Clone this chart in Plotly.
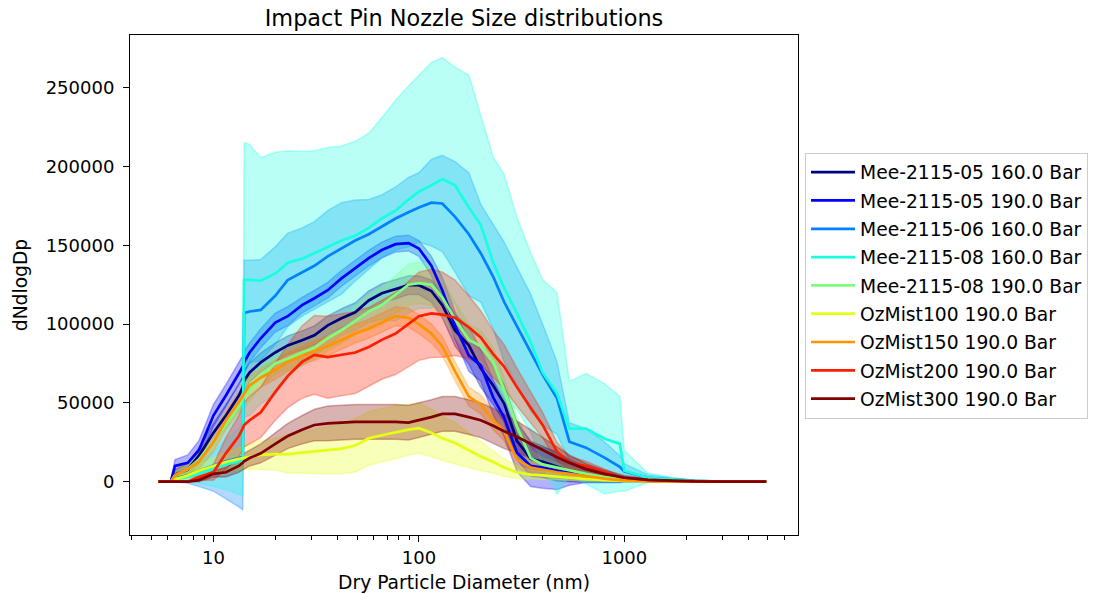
import numpy as np
import plotly.graph_objects as go

# Particle size bins (nm)
diameter_nm = [5.4, 6.2, 6.5, 7.5, 8.5, 10, 11.5, 13.3, 13.9, 14.1, 15, 17, 20, 23, 27, 31,
               36, 42, 49, 57, 66, 77, 89, 100, 115, 130, 150, 175, 200, 230, 260, 300,
               350, 400, 470, 540, 650, 800, 950, 1000, 1300, 1700, 2200, 3000, 4000, 4900]

labels = ["Mee-2115-05 160.0 Bar", "Mee-2115-05 190.0 Bar", "Mee-2115-06 160.0 Bar",
          "Mee-2115-08 160.0 Bar", "Mee-2115-08 190.0 Bar", "OzMist100 190.0 Bar",
          "OzMist150 190.0 Bar", "OzMist200 190.0 Bar", "OzMist300 190.0 Bar"]

# jet colormap sampled at 9 evenly spaced points
colors = [(0, 0, 128), (0, 0, 255), (0, 129, 255), (22, 255, 225), (125, 255, 122),
          (228, 255, 19), (255, 148, 0), (255, 30, 0), (128, 0, 0)]

# Mean dN/dlogDp and standard deviation per nozzle / pressure
mee05_160_mean = [0, 0, 4500, 7600, 16500, 31000, 42000, 54700, 60000, 64000, 69300, 75700, 82000, 86500, 89700, 92900,
                  99200, 103700, 107500, 115000, 119600, 122000, 124700, 124700, 121000, 112000, 96000, 86500, 71900, 61000, 49600, 26000,
                  14600, 12700, 9500, 7000, 4500, 2500, 1500, 1300, 600, 300, 100, 0, 0, 0]
mee05_160_std = [0, 0, 3000, 4000, 5000, 6000, 7000, 7000, 7000, 7000, 6000, 6000, 6000, 6000, 6000, 6000,
                 6000, 6000, 6000, 6000, 6000, 6000, 6000, 6000, 7000, 8000, 10000, 12000, 12000, 12000, 12000, 12000,
                 11000, 10000, 9000, 7000, 5000, 3000, 2000, 1500, 800, 400, 150, 0, 0, 0]

mee05_190_mean = [0, 0, 10000, 12000, 20000, 42000, 54700, 69300, 73000, 75700, 82000, 91000, 101000, 105000, 112000, 116400,
                  121500, 129000, 135500, 141800, 147000, 150700, 151400, 148000, 137000, 121500, 99000, 80000, 73800, 53400, 40700, 18400,
                  10000, 8900, 7000, 5700, 4500, 2500, 1500, 1300, 600, 300, 100, 0, 0, 0]
mee05_190_std = [0, 0, 4000, 5000, 6000, 7000, 7000, 7000, 7000, 7000, 6000, 6000, 6000, 6000, 5000, 5000,
                 5000, 5000, 5000, 5000, 5000, 5000, 5000, 5000, 6000, 8000, 9000, 10000, 10000, 11000, 12000, 12000,
                 13000, 13000, 12000, 8000, 5000, 3000, 2000, 1500, 800, 400, 150, 0, 0, 0]

mee06_160_mean = [0, 0, 2000, 4000, 7000, 10000, 13000, 15000, 16000, 107000, 108000, 109000, 118000, 128000, 133000, 137000,
                  143000, 148000, 153000, 157000, 162000, 167000, 171000, 174000, 177000, 176500, 168000, 157000, 145000, 130000, 114000, 99000,
                  82000, 68000, 53000, 25400, 21600, 15300, 9500, 6400, 2500, 1300, 600, 0, 0, 0]
mee06_160_std = [0, 0, 2000, 5000, 10000, 16000, 24000, 31000, 34000, 33500, 32500, 32000, 31000, 29700, 28000, 28000,
                 29000, 29000, 25700, 22000, 20000, 20000, 22000, 22000, 27500, 30500, 35000, 39000, 31000, 33000, 38000, 37000,
                 37000, 32000, 23000, 12000, 12000, 10000, 7000, 5000, 2000, 1000, 400, 0, 0, 0]

mee08_160_mean = [0, 0, 1500, 3000, 5000, 8000, 11000, 13000, 14000, 128000, 128000, 127500, 132000, 139000, 141500, 145000,
                  149000, 153000, 156000, 161000, 167000, 172000, 179000, 184000, 188000, 192000, 188000, 174000, 163000, 139000, 123000, 107000,
                  88400, 69300, 56000, 33700, 33700, 27300, 24000, 7000, 2500, 1300, 600, 0, 0, 0]
mee08_160_std = [0, 0, 1000, 3000, 6000, 11000, 16000, 21000, 23000, 87000, 86000, 78000, 77000, 71000, 68000, 65000,
                 63000, 60000, 60000, 60000, 64000, 70000, 72000, 74000, 78000, 77000, 75000, 84000, 69000, 67000, 72000, 61000,
                 57000, 59000, 64000, 30000, 35000, 35000, 30000, 13000, 3000, 1500, 500, 0, 0, 0]

mee08_190_mean = [0, 0, 4000, 8000, 14000, 26000, 36000, 48000, 52000, 54000, 58000, 67000, 75000, 78000, 82000, 85000,
                  91000, 96000, 102000, 108000, 112000, 119000, 125000, 126000, 125000, 117000, 103000, 90000, 86000, 76000, 58000, 35000,
                  15000, 11000, 9000, 7000, 5000, 3000, 1800, 1500, 700, 300, 0, 0, 0, 0]
mee08_190_std = [0, 0, 2000, 3000, 4000, 5000, 6000, 7000, 7000, 7000, 7000, 7000, 7000, 7000, 7000, 7000,
                 8000, 8000, 9000, 10000, 11000, 12000, 13000, 13000, 13000, 12000, 11000, 10000, 10000, 9000, 8000, 7000,
                 5000, 4000, 3000, 2500, 2000, 1500, 1000, 800, 400, 200, 0, 0, 0, 0]

oz100_mean = [0, 0, 1500, 4000, 7000, 10000, 12500, 14500, 15000, 15300, 16000, 17000, 17500, 17500, 18500, 19200,
              20000, 21000, 23000, 27500, 29500, 31500, 33000, 34000, 31000, 27500, 24500, 20000, 16000, 12500, 9000, 6000,
              4500, 4000, 3000, 2500, 1600, 1000, 600, 500, 300, 100, 0, 0, 0, 0]
oz100_std = [0, 0, 1000, 2500, 4000, 5000, 6000, 7000, 7500, 7500, 8000, 9000, 10000, 12000, 13000, 14000,
             15000, 16000, 17000, 17000, 17000, 17000, 16000, 16000, 15000, 14000, 13000, 11000, 9000, 7000, 5500, 4000,
             3000, 2500, 2000, 1500, 1000, 700, 400, 300, 200, 100, 0, 0, 0, 0]

oz150_mean = [0, 0, 4000, 8000, 13000, 25000, 39000, 50000, 54000, 56000, 61000, 66000, 71000, 76000, 80000, 83000,
              86000, 90000, 94000, 97000, 101000, 105000, 104000, 100000, 94000, 86000, 70000, 54000, 49000, 39000, 32000, 14000,
              9000, 7500, 6000, 5000, 3500, 2000, 1000, 800, 300, 0, 0, 0, 0, 0]
oz150_std = [0, 0, 3000, 4000, 5000, 6000, 6000, 6000, 6000, 6000, 6000, 6000, 6000, 6000, 6000, 6000,
             6000, 6000, 6000, 6000, 6000, 6000, 6000, 6000, 6000, 6000, 6000, 6000, 6000, 6000, 6000, 5000,
             4000, 3000, 2500, 2000, 1500, 1000, 600, 500, 200, 0, 0, 0, 0, 0]

oz200_mean = [0, 0, 0, 0, 3000, 6000, 18000, 29000, 34000, 36000, 39000, 44000, 57000, 67000, 76000, 80500,
              79000, 80500, 82000, 85500, 90000, 94000, 100000, 105000, 106800, 106000, 104000, 98000, 91500, 81000, 73000, 60000,
              47000, 36000, 19000, 12000, 10000, 6000, 3000, 2500, 1200, 500, 200, 0, 0, 0]
oz200_std = [0, 0, 0, 0, 2000, 5000, 10000, 13000, 14000, 14000, 15000, 16000, 18000, 20000, 23000, 25000,
             26000, 26000, 26000, 25000, 25000, 26000, 27000, 28000, 28000, 27000, 24000, 20000, 17000, 15000, 14000, 12000,
             10000, 8000, 6000, 4000, 3000, 2000, 1000, 800, 400, 200, 0, 0, 0, 0]

oz300_mean = [0, 0, 0, 0, 1000, 5000, 6000, 10000, 12000, 13000, 15000, 18000, 24000, 29000, 33000, 36000,
              37000, 37500, 38000, 38000, 38000, 38000, 37500, 39000, 41000, 43000, 43000, 41000, 39000, 35500, 32000, 28500,
              24000, 20000, 15500, 12000, 8000, 5000, 3000, 2500, 1200, 500, 200, 0, 0, 0]
oz300_std = [0, 0, 0, 0, 1000, 2000, 3000, 4000, 4500, 5000, 5000, 6000, 7000, 8000, 9000, 10000,
             11000, 11000, 11000, 11000, 11000, 11000, 11000, 11000, 11000, 11000, 11000, 11000, 11000, 11000, 11000, 10000,
             9000, 8000, 7000, 5000, 3500, 2500, 1800, 1500, 800, 400, 150, 0, 0, 0]

series = [
    (mee05_160_mean, mee05_160_std),
    (mee05_190_mean, mee05_190_std),
    (mee06_160_mean, mee06_160_std),
    (mee08_160_mean, mee08_160_std),
    (mee08_190_mean, mee08_190_std),
    (oz100_mean, oz100_std),
    (oz150_mean, oz150_std),
    (oz200_mean, oz200_std),
    (oz300_mean, oz300_std),
]

x = np.array(diameter_nm, dtype=float)
fig = go.Figure()

# Shaded +/- one standard deviation bands (drawn beneath all lines)
for (mean, std), label, (r, g, b) in zip(series, labels, colors):
    m = np.array(mean, dtype=float)
    s = np.array(std, dtype=float)
    upper = m + s
    lower = m - s
    fig.add_trace(go.Scatter(
        x=np.concatenate([x, x[::-1]]),
        y=np.concatenate([upper, lower[::-1]]),
        fill="toself",
        fillcolor=f"rgba({r},{g},{b},0.3)",
        line=dict(color=f"rgba({r},{g},{b},0.3)", width=1.5),
        mode="lines",
        hoverinfo="skip",
        showlegend=False,
        legendgroup=label,
    ))

# Mean size distributions
for (mean, std), label, (r, g, b) in zip(series, labels, colors):
    fig.add_trace(go.Scatter(
        x=x, y=mean, mode="lines", name=label, legendgroup=label,
        line=dict(color=f"rgb({r},{g},{b})", width=2.7),
    ))

minor_ticks = [4, 5, 6, 7, 8, 9, 20, 30, 40, 50, 60, 70, 80, 90,
               200, 300, 400, 500, 600, 700, 800, 900, 2000, 3000, 4000, 5000, 6000]
y_ticks = [0, 50000, 100000, 150000, 200000, 250000]

fig.update_layout(
    width=1101, height=594,
    margin=dict(l=130, r=303, t=35, b=59),
    paper_bgcolor="white", plot_bgcolor="white",
    font=dict(family="DejaVu Sans", size=18, color="black"),
    title=dict(text="Impact Pin Nozzle Size distributions", font=dict(size=22.4),
               x=0.5, xref="paper", xanchor="center",
               y=1 - 18 / 594, yref="container", yanchor="middle"),
    showlegend=True,
    legend=dict(x=1.0105, y=0.765, xanchor="left", yanchor="top",
                bordercolor="#cccccc", borderwidth=1, bgcolor="white",
                font=dict(size=18.7), tracegroupgap=1, itemwidth=44),
    xaxis=dict(type="log", range=[0.594, 3.845], automargin=False,
               tickvals=[10, 100, 1000], ticktext=["10", "100", "1000"],
               ticks="outside", ticklen=6, tickwidth=1.1, tickcolor="black",
               minor=dict(tickvals=minor_ticks, ticks="outside", ticklen=3.5,
                          tickwidth=1, tickcolor="black", showgrid=False),
               showline=True, linecolor="black", linewidth=1.1, mirror=True,
               showgrid=False, zeroline=False,
               title=dict(text="Dry Particle Diameter (nm)", font=dict(size=18.7), standoff=9)),
    yaxis=dict(range=[-33800, 283400], automargin=False,
               tickvals=y_ticks, ticktext=[str(v) for v in y_ticks],
               ticks="outside", ticklen=6, tickwidth=1.1, tickcolor="black",
               ticklabelstandoff=5,
               showline=True, linecolor="black", linewidth=1.1, mirror=True,
               showgrid=False, zeroline=False,
               title=dict(text="dNdlogDp", font=dict(size=18.7), standoff=13)),
)

fig.write_html("out.html")
